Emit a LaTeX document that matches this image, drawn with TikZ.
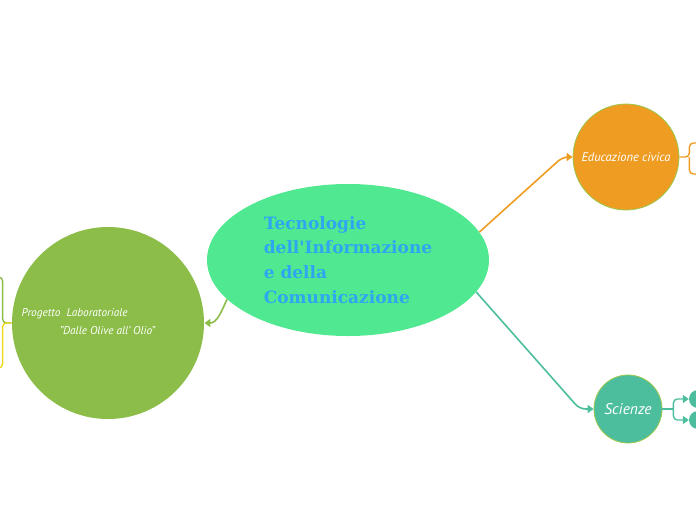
\documentclass[tikz,border=0pt]{standalone}
\usepackage{fontspec}
\setmainfont{PT Sans}
\newfontfamily\titlefont{DejaVu Serif}
\usetikzlibrary{arrows.meta,calc,shapes.geometric}
\definecolor{mint}{HTML}{50E890}
\definecolor{sky}{HTML}{2EA6F2}
\definecolor{leaf}{HTML}{8BBD48}
\definecolor{amber}{HTML}{EE9C22}
\definecolor{teal}{HTML}{4CBE9E}
\definecolor{lemon}{HTML}{EED820}
\definecolor{rim}{HTML}{9CC84E}

\begin{document}
\begin{tikzpicture}[x=1pt,y=-1pt,>=Latex,
  topic/.style={ellipse,fill=mint,inner sep=0pt,minimum width=282pt,
    minimum height=152pt,text=sky,align=left,
    font=\titlefont\bfseries\fontsize{17}{24.7}\selectfont},
  bubble/.style={circle,fill=#1,draw=rim,line width=0.8pt,inner sep=0pt,
    text=white,font=\itshape},
  lnk/.style={draw=#1,line width=1.6pt,rounded corners=6pt,
    -{Triangle[width=8pt,length=6pt]}},
  brk/.style={draw=#1,line width=1.4pt,rounded corners=4pt}]
  \clip (0,0) rectangle (696,520);
  % main topic and branches
  \node[topic] (main) at (348,260)
    {Tecnologie\\dell'Informazione\\e della\\Comunicazione};
  \node[bubble=leaf,draw=none,minimum size=192pt] (prog) at (108,323) {};
  \node[anchor=west,text=white,align=left,font=\itshape\fontsize{11.3}{18}\selectfont]
    (progtxt) at (18,322)
    {Progetto\ \ Laboratoriale\\\hspace*{38pt}"Dalle\ Olive\ all'\ Olio"};
  \node[bubble=amber,minimum size=106pt,font=\itshape\fontsize{12.5}{14}\selectfont]
    (civ) at (626,157) {Educazione civica};
  \node[bubble=teal,minimum size=68pt,font=\itshape\fontsize{15.5}{17}\selectfont]
    (sci) at (628,409) {Scienze};
  \node[circle,fill=teal,minimum size=18pt,inner sep=0pt] (sciA) at (698,399) {};
  \node[circle,fill=teal,minimum size=18pt,inner sep=0pt] (sciB) at (698,420) {};
  % connectors
  \draw[lnk=leaf] (main.198) to[out=245,in=0] (prog.east);
  \draw[lnk=amber] (main.12) -- ($(civ.west)+(-10,0)$) -- (civ.west);
  \draw[lnk=teal] (main.346) -- ($(sci.west)+(-14,0)$) -- (sci.west);
  % children off the page
  \coordinate (progA) at (-6,277);
  \coordinate (progB) at (-6,368);
  \coordinate (civA) at (702,143);
  \coordinate (civB) at (702,174);
  \draw[brk=leaf] (prog.west) -- ($(prog.west)+(-9,0)$) |- (progA);
  \draw[brk=lemon] (prog.west) -- ($(prog.west)+(-9,0)$) |- (progB);
  \draw[brk=amber] (civ.east) -- ($(civ.east)+(10,0)$) |- (civA);
  \draw[brk=amber] ($(civ.east)+(10,0)$) |- (civB);
  \draw[brk=teal] (sci.east) -- ($(sci.east)+(11,0)$);
  \draw[brk=teal,-{Triangle[width=8pt,length=6pt]}]
    ($(sci.east)+(11,0)$) |- (sciA.west);
  \draw[brk=teal,-{Triangle[width=8pt,length=6pt]}]
    ($(sci.east)+(11,0)$) |- (sciB.west);
\end{tikzpicture}
\end{document}
